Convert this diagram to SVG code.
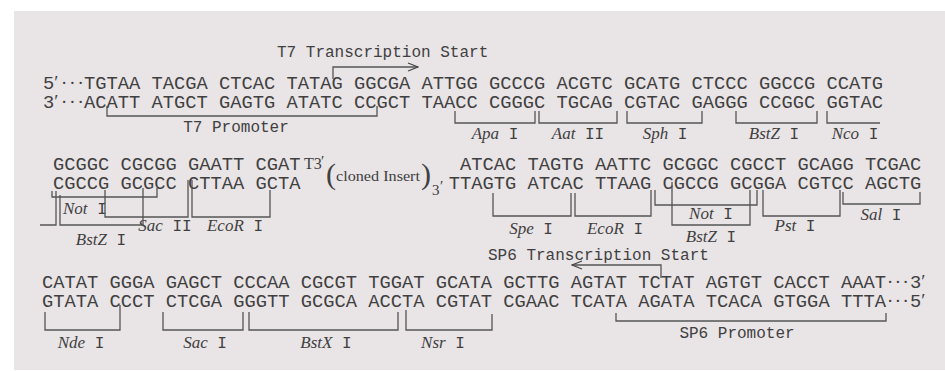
<svg xmlns="http://www.w3.org/2000/svg" width="945" height="371" viewBox="0 0 945 371">
<style>
.seq{font-family:"Liberation Mono","Courier New",monospace;font-size:18.75px;fill:#404040}
.cap{font-family:"Liberation Mono","Courier New",monospace;font-size:16px;fill:#404040}
.ser{font-family:"Liberation Serif","Times New Roman",serif;fill:#404040}
.lbl{font-family:"Liberation Mono","Courier New",monospace;font-size:16px;fill:#404040;text-anchor:middle}
.lbs{font-family:"Liberation Mono","Courier New",monospace;font-size:16px;fill:#404040;text-anchor:start}
.nm{font-family:"Liberation Serif","Times New Roman",serif;font-style:italic;font-size:17px}
.br{fill:none;stroke:#555;stroke-width:1.3}
</style>
<defs>
<marker id="ah" viewBox="0 0 12 10" refX="11" refY="5" markerWidth="12" markerHeight="10" markerUnits="userSpaceOnUse" orient="auto">
<polyline points="1,1 11,5 1,9" fill="none" stroke="#444" stroke-width="1.2"/>
</marker>
</defs>
<rect x="14" y="11" width="931" height="359" fill="#e9e4e6"/>

<g id="seq-top">
<text class="seq" x="43" y="89">5<tspan class="ser">′</tspan></text>
<text class="ser" x="61" y="89" font-size="18.75" letter-spacing="2">···</text>
<text class="seq" x="84" y="89">TGTAA TACGA CTCAC TATAG GGCGA ATTGG GCCCG ACGTC GCATG CTCCC GGCCG CCATG</text>
<text class="seq" x="43" y="108">3<tspan class="ser">′</tspan></text>
<text class="ser" x="61" y="108" font-size="18.75" letter-spacing="2">···</text>
<text class="seq" x="84" y="108">ACATT ATGCT GAGTG ATATC CCGCT TAACC CGGGC TGCAG CGTAC GAGGG CCGGC GGTAC</text>
</g>

<g id="seq-middle">
<text class="seq" x="53" y="170">GCGGC CGCGG GAATT CGAT</text>
<text class="seq" x="53" y="189">CGCCG GCGCC CTTAA GCTA</text>
<text class="ser" x="304" y="169" font-size="16">T3</text>
<text class="ser" x="321" y="166" font-size="15">′</text>
<text class="ser" x="326" y="184" font-size="30">(</text>
<text class="ser" x="336" y="181" font-size="15" textLength="84" lengthAdjust="spacingAndGlyphs">cloned Insert</text>
<text class="ser" x="421" y="184" font-size="30">)</text>
<text class="ser" x="432" y="195" font-size="15">3</text>
<text class="ser" x="440" y="191" font-size="15">′</text>
<text class="seq" x="460" y="170">ATCAC TAGTG AATTC GCGGC CGCCT GCAGG TCGAC</text>
<text class="seq" x="448.75" y="189">TTAGTG ATCAC TTAAG CGCCG GCGGA CGTCC AGCTG</text>
</g>

<g id="seq-bottom">
<text class="seq" x="42" y="288">CATAT GGGA GAGCT CCCAA CGCGT TGGAT GCATA GCTTG AGTAT TCTAT AGTGT CACCT AAAT</text>
<text class="ser" x="887" y="288" font-size="18.75" letter-spacing="1.5">···</text>
<text class="seq" x="910" y="288">3<tspan class="ser">′</tspan></text>
<text class="seq" x="42" y="307">GTATA CCCT CTCGA GGGTT GCGCA ACCTA CGTAT CGAAC TCATA AGATA TCACA GTGGA TTTA</text>
<text class="ser" x="887" y="307" font-size="18.75" letter-spacing="1.5">···</text>
<text class="seq" x="910" y="307">5<tspan class="ser">′</tspan></text>
</g>

<g id="t7-start">
<text class="cap" x="277" y="57">T7 Transcription Start</text>
</g>
<g id="t7-promoter">
<text class="lbl" x="236" y="132" font-size="18">T7 Promoter</text>
</g>
<g id="sp6-start">
<text class="cap" x="488" y="260">SP6 Transcription Start</text>
</g>
<g id="sp6-promoter">
<text class="lbl" x="737" y="338">SP6 Promoter</text>
</g>

<g id="labels">
<text class="lbl" x="495" y="139"><tspan class="nm">Apa</tspan> I</text>
<text class="lbl" x="578" y="139"><tspan class="nm">Aat</tspan> II</text>
<text class="lbl" x="665" y="139"><tspan class="nm">Sph</tspan> I</text>
<text class="lbl" x="774" y="139"><tspan class="nm">BstZ</tspan> I</text>
<text class="lbl" x="855" y="139"><tspan class="nm">Nco</tspan> I</text>

<text class="lbs" x="63" y="214"><tspan class="nm">Not</tspan> I</text>
<text class="lbl" x="165" y="231"><tspan class="nm">Sac</tspan> II</text>
<text class="lbl" x="235" y="231"><tspan class="nm">EcoR</tspan> I</text>
<text class="lbl" x="101" y="245"><tspan class="nm">BstZ</tspan> I</text>

<text class="lbl" x="531" y="234"><tspan class="nm">Spe</tspan> I</text>
<text class="lbl" x="615" y="234"><tspan class="nm">EcoR</tspan> I</text>
<text class="lbl" x="711" y="219"><tspan class="nm">Not</tspan> I</text>
<text class="lbl" x="711" y="242"><tspan class="nm">BstZ</tspan> I</text>
<text class="lbl" x="795" y="231"><tspan class="nm">Pst</tspan> I</text>
<text class="lbl" x="881" y="220"><tspan class="nm">Sal</tspan> I</text>

<text class="lbl" x="81" y="348"><tspan class="nm">Nde</tspan> I</text>
<text class="lbl" x="205" y="348"><tspan class="nm">Sac</tspan> I</text>
<text class="lbl" x="326" y="348"><tspan class="nm">BstX</tspan> I</text>
<text class="lbl" x="443" y="348"><tspan class="nm">Nsr</tspan> I</text>
</g>

<g id="connectors">
<path class="br" d="M333,79 V67 H418" marker-end="url(#ah)"/>
<path class="br" d="M661,278 V265 H572" marker-end="url(#ah)"/>
<path class="br" d="M107,106 V116 H377 V106"/>
<path class="br" d="M455,111 V123 H535 V111"/>
<path class="br" d="M539,111 V123 H617 V111"/>
<path class="br" d="M627,111 V123 H702 V111"/>
<path class="br" d="M736,111 V123 H817 V111"/>
<path class="br" d="M827,111 V123 H880"/>

<path class="br" d="M40,225 H56 V191"/>
<path class="br" d="M52,191 V197 H157 V188"/>
<path class="br" d="M60,195 V225 H143 V188"/>
<path class="br" d="M105,190 V217 H188 V180"/>
<path class="br" d="M192,180 V217 H270 V190"/>

<path class="br" d="M493,193 V216 H571 V193"/>
<path class="br" d="M575,193 V216 H651 V190"/>
<path class="br" d="M655,190 V205 H757 V190"/>
<path class="br" d="M672,182 V225 H750 V190"/>
<path class="br" d="M763,190 V216 H840 V190"/>
<path class="br" d="M843,192 V204 H920 V192"/>

<path class="br" d="M45,312 V330 H120 V305"/>
<path class="br" d="M163,312 V330 H243 V312"/>
<path class="br" d="M249,312 V330 H398 V312"/>
<path class="br" d="M406,310 V330 H492 V314"/>
<path class="br" d="M616,313 V321 H886 V313"/>
</g>
</svg>
